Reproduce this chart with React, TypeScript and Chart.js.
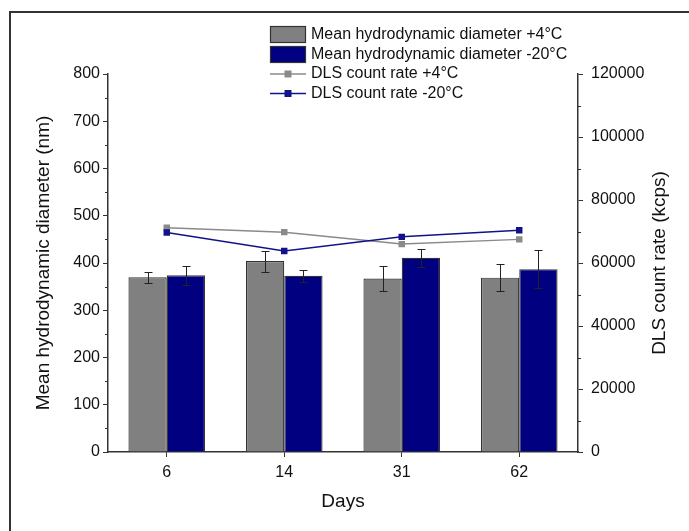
import React, { useEffect, useRef } from 'react';
import { Chart, registerables } from 'chart.js';
Chart.register(...registerables);

const days = ['6', '14', '31', '62'];
const diam4 = [370, 404, 367, 369];
const diam4Err = [12, 22, 27, 28];
const diam20 = [374, 373, 411, 387];
const diam20Err = [20, 13, 19, 40];
const rate4 = [71200, 69800, 66000, 67500];
const rate20 = [69700, 63800, 68300, 70400];
const legendLabels = [
  'Mean hydrodynamic diameter +4°C',
  'Mean hydrodynamic diameter -20°C',
  'DLS count rate +4°C',
  'DLS count rate -20°C',
];
const rightTitle = 'DLS count rate (kcps)';

const FONT = '"Liberation Sans", Arial, sans-serif';
const GRAY = '#808080';
const NAVY = '#000080';
const GRAY_LINE = '#8a8a8a';
const NAVY_LINE = '#12128c';
const AXIS = '#333333';

export default function App() {
  const ref = useRef<HTMLCanvasElement>(null);
  useEffect(() => {
    document.body.style.margin = '0';
    const errMap: Record<number, number[]> = { 0: diam4Err, 1: diam20Err };

    const framePlugin = {
      id: 'frame',
      beforeDraw(chart: any) {
        const c = chart.ctx;
        c.save();
        c.fillStyle = '#fff';
        c.fillRect(0, 0, chart.width, chart.height);
        c.strokeStyle = AXIS;
        c.lineWidth = 2;
        c.beginPath();
        c.moveTo(10, chart.height);
        c.lineTo(10, 12);
        c.lineTo(chart.width, 12);
        c.stroke();
        c.restore();
      },
    };

    const errorBars = {
      id: 'errorBars',
      afterDatasetDraw(chart: any, args: any) {
        const errs = errMap[args.index];
        if (!errs) return;
        const ds = chart.data.datasets[args.index];
        const y = chart.scales.y;
        const c = chart.ctx;
        c.save();
        c.strokeStyle = '#222';
        c.lineWidth = 1;
        args.meta.data.forEach((el: any, i: number) => {
          const v = ds.data[i] as number;
          const e = errs[i];
          const x = Math.round(el.x) + 0.5;
          const yt = Math.round(y.getPixelForValue(v + e)) + 0.5;
          const yb = Math.round(y.getPixelForValue(v - e)) + 0.5;
          c.beginPath();
          c.moveTo(x, yt);
          c.lineTo(x, yb);
          c.moveTo(x - 4, yt);
          c.lineTo(x + 4, yt);
          c.moveTo(x - 4, yb);
          c.lineTo(x + 4, yb);
          c.stroke();
        });
        c.restore();
      },
    };

    const minorTicks = {
      id: 'minorTicks',
      afterDraw(chart: any) {
        const c = chart.ctx;
        c.save();
        c.strokeStyle = AXIS;
        c.lineWidth = 1;
        const y = chart.scales.y;
        for (let v = 50; v < 800; v += 100) {
          const p = Math.round(y.getPixelForValue(v)) + 0.5;
          c.beginPath();
          c.moveTo(chart.chartArea.left, p);
          c.lineTo(chart.chartArea.left - 3, p);
          c.stroke();
        }
        const y1 = chart.scales.y1;
        for (let v = 10000; v < 120000; v += 20000) {
          const p = Math.round(y1.getPixelForValue(v)) + 0.5;
          c.beginPath();
          c.moveTo(chart.chartArea.right, p);
          c.lineTo(chart.chartArea.right + 3, p);
          c.stroke();
        }
        // right axis title, reading bottom-to-top
        const ca = chart.chartArea;
        c.translate(660, (ca.top + ca.bottom) / 2);
        c.rotate(-Math.PI / 2);
        c.font = `19px ${FONT}`;
        c.fillStyle = '#111';
        c.textAlign = 'center';
        c.textBaseline = 'middle';
        c.fillText(rightTitle, 0, 0);
        c.restore();
      },
    };

    const legendPlugin = {
      id: 'customLegend',
      afterDraw(chart: any) {
        const c = chart.ctx;
        c.save();
        c.font = `16px ${FONT}`;
        c.textBaseline = 'middle';
        c.fillStyle = '#111';
        const x0 = 270;
        const w = 36;
        const rows = [34.5, 54.5, 74, 93.5];
        [GRAY, NAVY].forEach((col, i) => {
          c.fillStyle = col;
          c.fillRect(x0, rows[i] - 8.5, w, 17);
          c.strokeStyle = AXIS;
          c.lineWidth = 1.2;
          c.strokeRect(x0 + 0.5, rows[i] - 8.5 + 0.5, w - 1, 16);
        });
        [GRAY_LINE, NAVY_LINE].forEach((col, i) => {
          const yy = rows[i + 2];
          c.strokeStyle = col;
          c.lineWidth = 1.5;
          c.beginPath();
          c.moveTo(x0, yy);
          c.lineTo(x0 + w, yy);
          c.stroke();
          c.fillStyle = col;
          c.fillRect(x0 + w / 2 - 3.5, yy - 3.5, 7, 7);
        });
        c.fillStyle = '#111';
        legendLabels.forEach((t, i) => c.fillText(t, 311, rows[i]));
        c.restore();
      },
    };

    const chart = new Chart(ref.current as HTMLCanvasElement, {
      type: 'bar',
      data: {
        labels: days,
        datasets: [
          {
            type: 'bar',
            label: legendLabels[0],
            data: diam4,
            backgroundColor: GRAY,
            borderColor: AXIS,
            borderWidth: 1.2,
            yAxisID: 'y',
            order: 2,
            categoryPercentage: 0.652,
            barPercentage: 1,
          },
          {
            type: 'bar',
            label: legendLabels[1],
            data: diam20,
            backgroundColor: NAVY,
            borderColor: AXIS,
            borderWidth: 1.2,
            yAxisID: 'y',
            order: 2,
            categoryPercentage: 0.652,
            barPercentage: 1,
          },
          {
            type: 'line',
            label: legendLabels[2],
            data: rate4,
            borderColor: GRAY_LINE,
            backgroundColor: GRAY_LINE,
            borderWidth: 1.5,
            pointStyle: 'rect',
            pointRadius: 3.5,
            yAxisID: 'y1',
            order: 1,
          },
          {
            type: 'line',
            label: legendLabels[3],
            data: rate20,
            borderColor: NAVY_LINE,
            backgroundColor: NAVY_LINE,
            borderWidth: 1.5,
            pointStyle: 'rect',
            pointRadius: 3.5,
            yAxisID: 'y1',
            order: 0,
          },
        ] as any,
      },
      options: {
        responsive: false,
        animation: false,
        layout: { padding: { top: 74, left: 0, right: 0, bottom: 0 } },
        plugins: {
          legend: { display: false },
          tooltip: { enabled: false },
        },
        scales: {
          x: {
            grid: { display: true, drawOnChartArea: false, drawTicks: true, tickLength: 5, offset: false, color: AXIS },
            border: { display: true, color: AXIS, width: 1.5 },
            ticks: { color: '#111', font: { family: FONT, size: 16 }, padding: 6 },
            title: { display: true, text: 'Days', color: '#111', font: { family: FONT, size: 19 }, padding: { top: 0, bottom: 18 } },
            afterFit: (s: any) => { s.height = 79; },
          },
          y: {
            position: 'left',
            min: 0,
            max: 800,
            grid: { display: true, drawOnChartArea: false, drawTicks: true, tickLength: 5, color: AXIS },
            border: { display: true, color: AXIS, width: 1.5 },
            ticks: { stepSize: 100, color: '#111', font: { family: FONT, size: 16 }, padding: 3, callback: (v: any) => String(v) },
            title: { display: true, text: 'Mean hydrodynamic diameter (nm)', color: '#111', font: { family: FONT, size: 19 }, padding: { top: 32, bottom: 0 } },
            afterFit: (s: any) => { s.width = 108; },
          },
          y1: {
            position: 'right',
            min: 0,
            max: 120000,
            grid: { display: true, drawOnChartArea: false, drawTicks: true, tickLength: 5, color: AXIS },
            border: { display: true, color: AXIS, width: 1.5 },
            ticks: { stepSize: 20000, color: '#111', font: { family: FONT, size: 16 }, padding: 8, callback: (v: any) => String(v) },
            title: { display: false },
            afterFit: (s: any) => { s.width = 111; },
          },
        },
      } as any,
      plugins: [framePlugin, errorBars, minorTicks, legendPlugin],
    });
    return () => chart.destroy();
  }, []);

  return (
    <div style={{ width: 689, height: 531 }}>
      <canvas ref={ref} width={689} height={531} />
    </div>
  );
}
